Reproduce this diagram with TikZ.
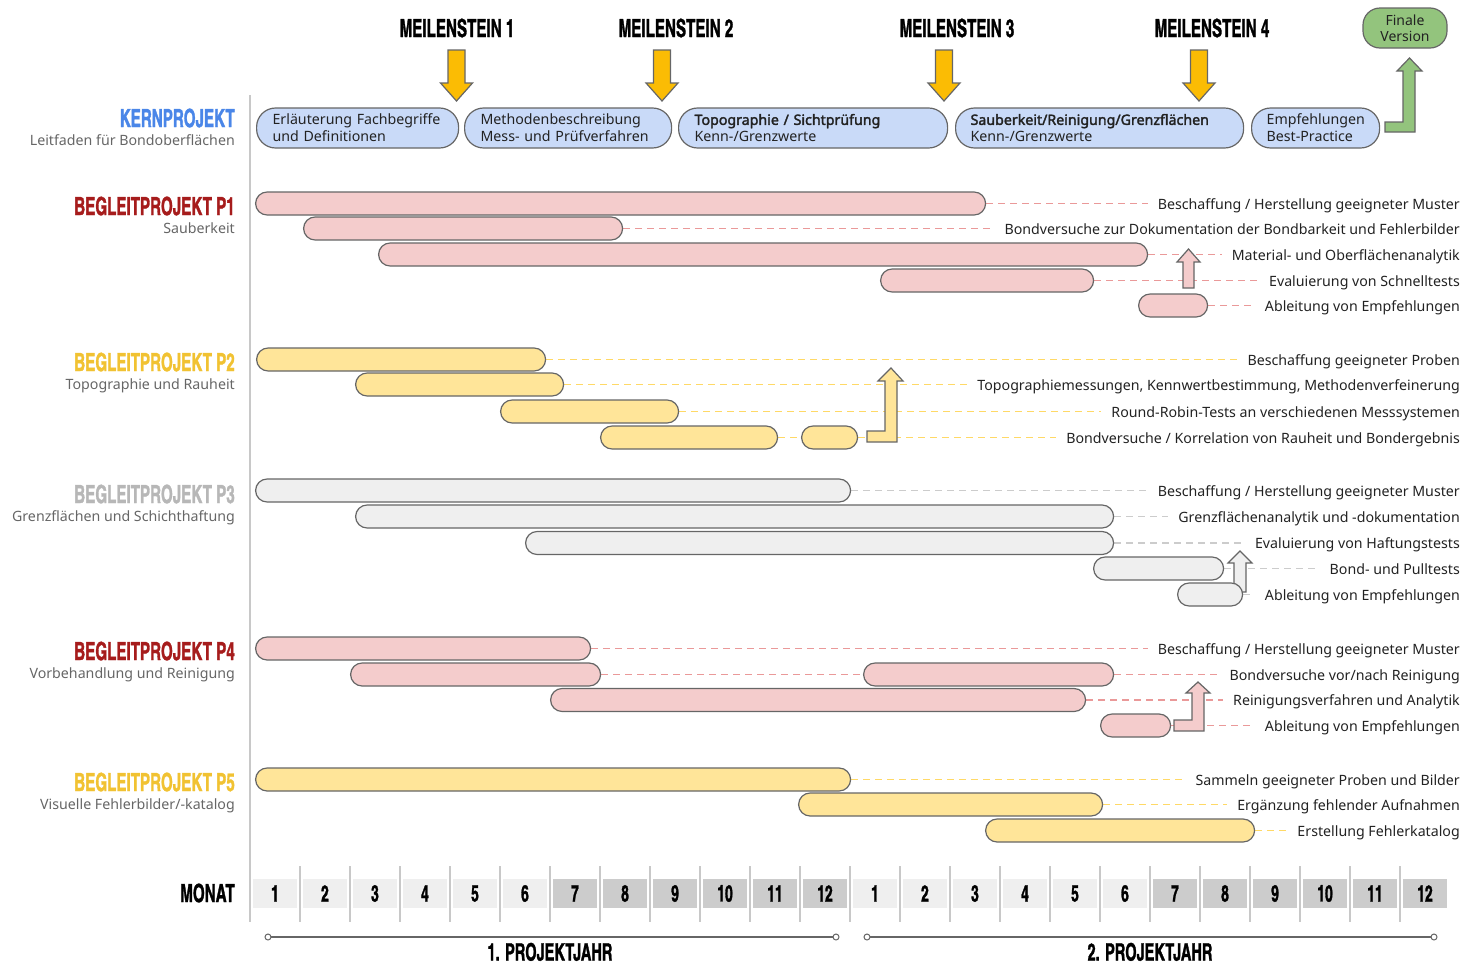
\documentclass[tikz,border=0pt]{standalone}
\usepackage{fontspec}
\setmainfont{Noto Sans}
\newfontfamily\boldbody{Noto Sans}[FakeBold=2.2]
\newfontfamily\headfont{texgyreheroscn-bold.otf}[FakeStretch=0.74,FakeBold=1.2]
\definecolor{bord}{HTML}{666666}
\definecolor{pinkf}{HTML}{F4CCCC}
\definecolor{yelf}{HTML}{FFE599}
\definecolor{grayf}{HTML}{EFEFEF}
\definecolor{bluef}{HTML}{C9DAF8}
\definecolor{greenf}{HTML}{93C47D}
\definecolor{msyel}{HTML}{FBBC04}
\definecolor{kblue}{HTML}{4A86E8}
\definecolor{pred}{HTML}{A61C1C}
\definecolor{pyel}{HTML}{F1C232}
\definecolor{pgray}{HTML}{B7B7B7}
\definecolor{pinkdash}{HTML}{EA9999}
\definecolor{yeldash}{HTML}{FFD966}
\definecolor{graydash}{HTML}{CCCCCC}
\definecolor{subgray}{HTML}{666666}
\definecolor{txt}{HTML}{222222}
\definecolor{monl}{HTML}{EFEFEF}
\definecolor{mond}{HTML}{CCCCCC}
\definecolor{sepgray}{HTML}{C8C8C8}
\pgfdeclarelayer{bg}
\pgfsetlayers{bg,main}
\tikzset{
  pill/.style={draw=bord, line width=1.2pt, rounded corners=11.5pt, minimum height=23pt, inner sep=0pt, anchor=west},
  pinkbar/.style={pill, fill=pinkf},
  yelbar/.style={pill, fill=yelf},
  graybar/.style={pill, fill=grayf},
  kbox/.style={draw=bord, line width=1.2pt, fill=bluef, rounded corners=19pt, minimum height=40pt, inner xsep=16pt, inner ysep=0pt, anchor=west, align=left, font=\fontsize{14.2}{17}\selectfont, text=txt},
  lbl/.style={font=\fontsize{14.2}{17}\selectfont, text=txt, inner sep=0pt, text height=10.3pt, text depth=0pt, anchor=east},
  sub/.style={font=\fontsize{14.2}{17}\selectfont, text=subgray, inner sep=0pt, text height=10.3pt, text depth=0pt, anchor=east},
  head/.style={font=\headfont\fontsize{25}{25}\selectfont, inner sep=0pt, text height=18pt, text depth=0pt},
  pdash/.style={draw=pinkdash, line width=1.5pt, dash pattern=on 7pt off 5pt, shorten >=10pt},
  ydash/.style={draw=yeldash, line width=1.5pt, dash pattern=on 7pt off 5pt, shorten >=10pt},
  gdash/.style={draw=graydash, line width=1.5pt, dash pattern=on 7pt off 5pt, shorten >=10pt},
  arrowshape/.style={draw=bord, line width=1.2pt, line join=miter},
  monthcell/.style={minimum width=44pt, minimum height=29pt, inner sep=0pt, font=\headfont\fontsize{23}{23}\selectfont},
  msarrow/.pic={\draw[arrowshape, fill=msyel] (-8.5,0) -- (8.5,0) -- (8.5,33) -- (16,33) -- (0,51) -- (-16,33) -- (-8.5,33) -- cycle;}
}
\newcommand\dashto[3]{\begin{pgfonlayer}{bg}\draw[#1] (#2.east) -- (#2.east -| #3.west);\end{pgfonlayer}}
\begin{document}
\begin{tikzpicture}[x=1pt,y=-1pt]
\useasboundingbox (0,0) rectangle (1476,967);

% axis
\draw[sepgray, line width=1.5pt] (250,95) -- (250,922);

% milestones
\node[head] (ms1) at (457,28) {MEILENSTEIN 1};
\node[head] (ms2) at (676,28) {MEILENSTEIN 2};
\node[head] (ms3) at (957,28) {MEILENSTEIN 3};
\node[head] (ms4) at (1212,28) {MEILENSTEIN 4};
\pic at (456.5,50) {msarrow};
\pic at (662,50) {msarrow};
\pic at (944,50) {msarrow};
\pic at (1199,50) {msarrow};

% left labels
\node[head, text=kblue, anchor=east] (hk) at (235,118) {KERNPROJEKT};
\node[sub] (sk) at (235,140) {Leitfaden für Bondoberflächen};
\node[head, text=pred, anchor=east] (h1) at (235,206) {BEGLEITPROJEKT P1};
\node[sub] (s1) at (235,228) {Sauberkeit};
\node[head, text=pyel, anchor=east] (h2) at (235,362) {BEGLEITPROJEKT P2};
\node[sub] (s2) at (235,384) {Topographie und Rauheit};
\node[head, text=pgray, anchor=east] (h3) at (235,494) {BEGLEITPROJEKT P3};
\node[sub] (s3) at (235,516) {Grenzflächen und Schichthaftung};
\node[head, text=pred, anchor=east] (h4) at (235,651) {BEGLEITPROJEKT P4};
\node[sub] (s4) at (235,673) {Vorbehandlung und Reinigung};
\node[head, text=pyel, anchor=east] (h5) at (235,782) {BEGLEITPROJEKT P5};
\node[sub] (s5) at (235,804) {Visuelle Fehlerbilder/-katalog};
\node[head, anchor=east] (hm) at (235,893) {MONAT};

% Kernprojekt
\node[kbox, text width=170pt] (k1) at (256,128) {\mbox{Erläuterung Fachbegriffe}\\\mbox{und Definitionen}};
\node[kbox, text width=175pt] (k2) at (464,128) {\mbox{Methodenbeschreibung}\\\mbox{Mess- und Prüfverfahren}};
\node[kbox, text width=237pt] (k3) at (678,128) {\mbox{\boldbody Topographie / Sichtprüfung}\\\mbox{Kenn-/Grenzwerte}};
\node[kbox, text width=258pt, inner xsep=15pt] (k4) at (955,128) {\mbox{\boldbody Sauberkeit/Reinigung/Grenzflächen}\\\mbox{Kenn-/Grenzwerte}};
\node[kbox, text width=98pt, inner xsep=15pt] (k5) at (1251,128) {\mbox{Empfehlungen}\\\mbox{Best-Practice}};
\node[draw=bord, line width=1.2pt, fill=greenf, rounded corners=17pt, minimum width=84pt, minimum height=40pt, inner sep=0pt, align=center, font=\fontsize{14}{16.5}\selectfont, text=txt] (fin) at (1405,28) {Finale\\Version};
\draw[arrowshape, fill=greenf] (1385,122) -- (1403,122) -- (1403,71) -- (1397,71) -- (1409.5,58) -- (1422,71) -- (1415,71) -- (1415,132) -- (1385,132) -- cycle;

% ---------- P1
\node[pinkbar, minimum width=730pt] (p1a) at (255,203.5) {};
\node[pinkbar, minimum width=319pt] (p1b) at (303,228.5) {};
\node[pinkbar, minimum width=769pt] (p1c) at (378,254.5) {};
\node[pinkbar, minimum width=213pt] (p1d) at (880,280.5) {};
\node[pinkbar, minimum width=69pt] (p1e) at (1138,305.5) {};
\node[lbl] (p1aL) at (1460,204) {Beschaffung / Herstellung geeigneter Muster};
\node[lbl] (p1bL) at (1460,229) {Bondversuche zur Dokumentation der Bondbarkeit und Fehlerbilder};
\node[lbl] (p1cL) at (1460,255) {Material- und Oberflächenanalytik};
\node[lbl] (p1dL) at (1460,281) {Evaluierung von Schnelltests};
\node[lbl] (p1eL) at (1460,306) {Ableitung von Empfehlungen};
\dashto{pdash}{p1a}{p1aL}
\dashto{pdash}{p1b}{p1bL}
\dashto{pdash}{p1c}{p1cL}
\dashto{pdash}{p1d}{p1dL}
\dashto{pdash}{p1e}{p1eL}
\draw[arrowshape, fill=pinkf] (1183,288) -- (1183,262) -- (1177,262) -- (1188.5,249) -- (1200,262) -- (1194,262) -- (1194,288) -- cycle;

% ---------- P2
\node[yelbar, minimum width=289pt] (p2a) at (256,359.5) {};
\node[yelbar, minimum width=208pt] (p2b) at (355,384.5) {};
\node[yelbar, minimum width=178pt] (p2c) at (500,411.5) {};
\node[yelbar, minimum width=177pt] (p2d) at (600,437.5) {};
\node[yelbar, minimum width=56pt] (p2e) at (801,437.5) {};
\node[lbl] (p2aL) at (1460,360) {Beschaffung geeigneter Proben};
\node[lbl] (p2bL) at (1460,385) {Topographiemessungen, Kennwertbestimmung, Methodenverfeinerung};
\node[lbl] (p2cL) at (1460,412) {Round-Robin-Tests an verschiedenen Messsystemen};
\node[lbl] (p2dL) at (1460,438) {Bondversuche / Korrelation von Rauheit und Bondergebnis};
\dashto{ydash}{p2a}{p2aL}
\dashto{ydash}{p2b}{p2bL}
\dashto{ydash}{p2c}{p2cL}
\begin{pgfonlayer}{bg}\draw[ydash, shorten >=0pt] (p2d.east) -- (p2e.west);\end{pgfonlayer}
\dashto{ydash}{p2e}{p2dL}
\draw[arrowshape, fill=yelf] (867,431) -- (885,431) -- (885,381) -- (878,381) -- (891,368) -- (903,381) -- (897,381) -- (897,442) -- (867,442) -- cycle;

% ---------- P3
\node[graybar, minimum width=595pt] (p3a) at (255,490.5) {};
\node[graybar, minimum width=758pt] (p3b) at (355,516.5) {};
\node[graybar, minimum width=588pt] (p3c) at (525,543) {};
\node[graybar, minimum width=130pt] (p3d) at (1093,568.5) {};
\node[graybar, minimum width=65pt] (p3e) at (1177,594.5) {};
\node[lbl] (p3aL) at (1460,491) {Beschaffung / Herstellung geeigneter Muster};
\node[lbl] (p3bL) at (1460,517) {Grenzflächenanalytik und -dokumentation};
\node[lbl] (p3cL) at (1460,543.5) {Evaluierung von Haftungstests};
\node[lbl] (p3dL) at (1460,569) {Bond- und Pulltests};
\node[lbl] (p3eL) at (1460,595) {Ableitung von Empfehlungen};
\dashto{gdash}{p3a}{p3aL}
\dashto{gdash}{p3b}{p3bL}
\dashto{gdash}{p3c}{p3cL}
\dashto{gdash}{p3d}{p3dL}
\dashto{gdash}{p3e}{p3eL}
\begin{pgfonlayer}{bg}
\draw[arrowshape, fill=grayf] (1234,592) -- (1234,563) -- (1228,563) -- (1240,551) -- (1252,563) -- (1246,563) -- (1246,592) -- cycle;
\end{pgfonlayer}

% ---------- P4
\node[pinkbar, minimum width=335pt] (p4a) at (255,648.5) {};
\node[pinkbar, minimum width=250pt] (p4b) at (350,674.5) {};
\node[pinkbar, minimum width=250pt] (p4c) at (863,674.5) {};
\node[pinkbar, minimum width=535pt] (p4d) at (550,700) {};
\node[pinkbar, minimum width=70pt] (p4e) at (1100,725.5) {};
\node[lbl] (p4aL) at (1460,649) {Beschaffung / Herstellung geeigneter Muster};
\node[lbl] (p4bL) at (1460,675) {Bondversuche vor/nach Reinigung};
\node[lbl] (p4dL) at (1460,700.5) {Reinigungsverfahren und Analytik};
\node[lbl] (p4eL) at (1460,726) {Ableitung von Empfehlungen};
\dashto{pdash}{p4a}{p4aL}
\begin{pgfonlayer}{bg}\draw[pdash, shorten >=0pt] (p4b.east) -- (p4c.west);\end{pgfonlayer}
\dashto{pdash}{p4c}{p4bL}
\dashto{pdash}{p4d}{p4dL}
\dashto{pdash}{p4e}{p4eL}
\draw[arrowshape, fill=pinkf] (1174,720) -- (1192,720) -- (1192,693) -- (1186,693) -- (1198,682) -- (1210,693) -- (1204,693) -- (1204,731) -- (1174,731) -- cycle;

% ---------- P5
\node[yelbar, minimum width=595pt] (p5a) at (255,779.5) {};
\node[yelbar, minimum width=304pt] (p5b) at (798,804.5) {};
\node[yelbar, minimum width=269pt] (p5c) at (985,830.5) {};
\node[lbl] (p5aL) at (1460,780) {Sammeln geeigneter Proben und Bilder};
\node[lbl] (p5bL) at (1460,805) {Ergänzung fehlender Aufnahmen};
\node[lbl] (p5cL) at (1460,831) {Erstellung Fehlerkatalog};
\dashto{ydash}{p5a}{p5aL}
\dashto{ydash}{p5b}{p5bL}
\dashto{ydash}{p5c}{p5cL}

% ---------- months
\foreach \k in {1,...,23}{
  \draw[sepgray, line width=1.2pt] ({250+50*\k},866) -- ({250+50*\k},922);
}
\foreach \i in {1,...,24}{
  \pgfmathtruncatemacro\mm{mod(\i-1,12)+1}
  \pgfmathsetmacro\xc{250+50*\i-25}
  \ifnum\mm<7 \def\cf{monl}\else\def\cf{mond}\fi
  \node[monthcell, fill=\cf] (m\i) at (\xc,893.5) {\mm};
}

% years
\coordinate (y1a) at (268,937);
\coordinate (y1b) at (836,937);
\coordinate (y2a) at (867,937);
\coordinate (y2b) at (1434,937);
\draw[bord, line width=1.2pt] (y1a) -- (y1b);
\draw[bord, line width=1.2pt] (y2a) -- (y2b);
\foreach \c in {y1a,y1b,y2a,y2b}{\draw[bord, line width=1pt, fill=white] (\c) circle (3pt);}
\node[head, font=\headfont\fontsize{24}{24}\selectfont, text height=17pt] (yr1) at (550,952) {1. PROJEKTJAHR};
\node[head, font=\headfont\fontsize{24}{24}\selectfont, text height=17pt] (yr2) at (1150,952) {2. PROJEKTJAHR};
\end{tikzpicture}
\end{document}
